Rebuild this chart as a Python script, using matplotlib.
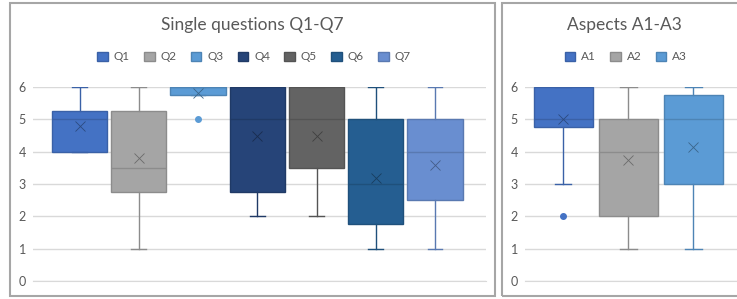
import matplotlib.pyplot as plt
from matplotlib.patches import Patch, Rectangle

plt.rcParams['font.family'] = ['Lato', 'DejaVu Sans']

# single questions: whisker low, q1, median, q3, whisker high, mean, outliers
q_labels = ['Q1', 'Q2', 'Q3', 'Q4', 'Q5', 'Q6', 'Q7']
q_wlo = [4, 1, 5.75, 2, 2, 1, 1]
q_q1 = [4, 2.75, 5.75, 2.75, 3.5, 1.75, 2.5]
q_med = [5, 3.5, 6, 5, 5, 3, 4]
q_q3 = [5.25, 5.25, 6, 6, 6, 5, 5]
q_whi = [6, 6, 6, 6, 6, 6, 6]
q_mean = [4.8, 3.8, 5.8, 4.5, 4.5, 3.2, 3.6]
q_fliers = [[], [], [5], [], [], [], []]
q_colors = ['#4472C4', '#A5A5A5', '#5B9BD5', '#264478', '#636363', '#255E91', '#698ED0']

# aspects
a_labels = ['A1', 'A2', 'A3']
a_wlo = [3, 1, 1]
a_q1 = [4.75, 2, 3]
a_med = [5, 4, 5]
a_q3 = [6, 5, 5.75]
a_whi = [6, 6, 6]
a_mean = [5.0, 3.75, 4.15]
a_fliers = [[2], [], []]
a_colors = ['#4472C4', '#A5A5A5', '#5B9BD5']

W, H = 737, 299
fig = plt.figure(figsize=(W / 100, H / 100), dpi=100)

def px_axes(x0, x1, ytop, ybot):
    return fig.add_axes([x0 / W, (H - ybot) / H, (x1 - x0) / W, (ybot - ytop) / H])

def darker(c, f=0.85):
    import matplotlib.colors as mc
    r, g, b = mc.to_rgb(c)
    return (r * f, g * f, b * f)

def draw(ax, labels, wlo, q1, med, q3, whi, mean, fliers, colors, width, xlim):
    stats = []
    for i in range(len(labels)):
        stats.append(dict(whislo=wlo[i], q1=q1[i], med=med[i], q3=q3[i],
                          whishi=whi[i], mean=mean[i], fliers=fliers[i]))
    for i, s in enumerate(stats):
        c = colors[i]
        d = darker(c)
        ax.bxp([s], positions=[i], widths=width, patch_artist=True,
               showmeans=True, capwidths=0.25,
               boxprops=dict(facecolor=c, edgecolor=d, linewidth=1),
               medianprops=dict(color=d, linewidth=1),
               whiskerprops=dict(color=d, linewidth=1),
               capprops=dict(color=d, linewidth=1),
               meanprops=dict(marker='x', markeredgecolor=darker(c, 0.65),
                              markersize=7, markeredgewidth=0.6),
               flierprops=dict(marker='o', markerfacecolor=c, markeredgecolor=c,
                               markersize=4))
    ax.set_ylim(0, 6)
    ax.set_xlim(*xlim)
    ax.set_yticks(range(7))
    ax.set_xticks([])
    ax.grid(axis='y', color='#D9D9D9', linewidth=1)
    ax.set_axisbelow(True)
    for sp in ['top', 'right', 'left']:
        ax.spines[sp].set_visible(False)
    ax.spines['bottom'].set_color('#D9D9D9')
    ax.tick_params(axis='y', length=0, labelsize=9, labelcolor='#595959', pad=5)
    ax.set_facecolor('none')

ax1 = px_axes(33, 486, 87, 281)
draw(ax1, q_labels, q_wlo, q_q1, q_med, q_q3, q_whi, q_mean, q_fliers,
     q_colors, 0.93, (-0.785, 6.86))
ax2 = px_axes(525, 737, 87, 281)
draw(ax2, a_labels, a_wlo, a_q1, a_med, a_q3, a_whi, a_mean, a_fliers,
     a_colors, 0.91, (-0.59, 2.67))

# panel borders
fig.patches.append(Rectangle((10 / W, 3 / H), 485 / W, 293 / H, transform=fig.transFigure,
                             fill=False, edgecolor='#A6A6A6', linewidth=1.5))
fig.patches.append(Rectangle((502 / W, 3 / H), 260 / W, 293 / H, transform=fig.transFigure,
                             fill=False, edgecolor='#A6A6A6', linewidth=1.5, clip_on=False))

fig.text(252 / W, 1 - 25 / H, 'Single questions Q1-Q7', ha='center', va='center',
         fontsize=12.5, color='#595959')
fig.text(624 / W, 1 - 25 / H, 'Aspects A1-A3', ha='center', va='center',
         fontsize=12.5, color='#595959')

def legend(labels, colors, x):
    handles = [Patch(facecolor=c, edgecolor=darker(c)) for c in colors]
    fig.legend(handles, labels, loc='center', bbox_to_anchor=(x / W, 1 - 57 / H),
               ncol=len(labels), frameon=False, fontsize=8.5, labelcolor='#595959',
               handlelength=0.9, handleheight=0.9, handletextpad=0.5, columnspacing=1.2)

legend(q_labels, q_colors, 254)
legend(a_labels, a_colors, 626)

fig.savefig('out.png', dpi=100)
